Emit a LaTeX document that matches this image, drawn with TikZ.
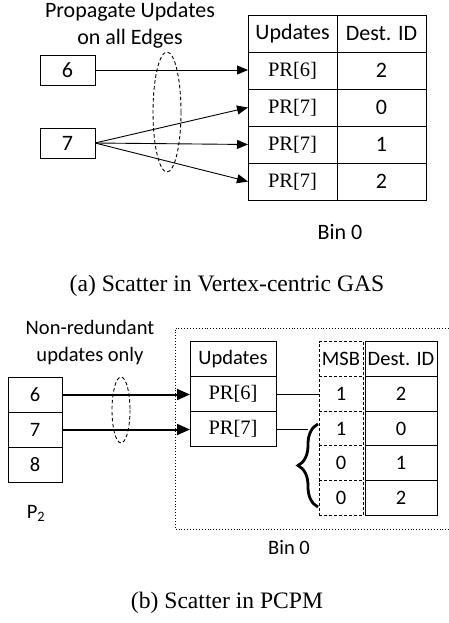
\documentclass[tikz,border=0pt]{standalone}
\usepackage{fontspec}
\setmainfont{Carlito}
\newfontfamily\serifface{Liberation Serif}
\usetikzlibrary{arrows.meta,decorations.pathreplacing}

\begin{document}
\begin{tikzpicture}[x=1pt,y=-1pt,
  cellA/.style={draw,line width=0.9pt,rectangle,inner sep=0pt,outer sep=0pt,
    minimum width=89pt,minimum height=37pt,font=\fontsize{22}{26}\selectfont},
  cellB/.style={draw,line width=0.9pt,rectangle,inner sep=0pt,outer sep=0pt,
    minimum height=35pt,font=\fontsize{20.5}{24}\selectfont},
  msbcell/.style={cellB,dashed,dash pattern=on 3pt off 2pt,minimum width=44pt,minimum height=34.8pt},
  destcell/.style={cellB,minimum width=72pt,minimum height=34.8pt},
  vbox/.style={draw,line width=0.9pt,rectangle,inner sep=0pt,outer sep=0pt,
    minimum width=55pt,minimum height=30pt,font=\fontsize{22}{26}\selectfont},
  pbox/.style={cellB,minimum width=54pt},
  pr/.style={font=\serifface\fontsize{20.5}{24}\selectfont},
  thinarrow/.style={line width=0.9pt,-{Triangle[length=11pt,width=9pt]}},
  thickarrow/.style={line width=2pt,-{Triangle[length=13pt,width=11pt]}},
  ring/.style={draw,dashed,dash pattern=on 3.5pt off 2.5pt,line width=0.9pt},
  lbl/.style={align=center,inner sep=0pt},
  caption/.style={inner sep=0pt,font=\serifface\fontsize{23.6}{28}\selectfont}
]
\useasboundingbox (0,0) rectangle (449,623);

% ---------- (a) vertex-centric scatter ----------
\node[lbl,font=\fontsize{22}{27}\selectfont] (titleA) at (130,25) {Propagate Updates\\on all Edges};

\node[vbox] (v6) at (67.5,70) {6};
\node[vbox] (v7) at (67.5,143) {7};

\node[cellA] (hU) at (292.5,33.5) {Updates};
\node[cellA] (hD) at (381.5,33.5) {Dest. ID};
\node[cellA,pr] (u1) at (292.5,70.5) {PR[6]};
\node[cellA] (d1) at (381.5,70.5) {2};
\node[cellA,pr] (u2) at (292.5,107.5) {PR[7]};
\node[cellA] (d2) at (381.5,107.5) {0};
\node[cellA,pr] (u3) at (292.5,144.5) {PR[7]};
\node[cellA] (d3) at (381.5,144.5) {1};
\node[cellA,pr] (u4) at (292.5,181.5) {PR[7]};
\node[cellA] (d4) at (381.5,181.5) {2};

\draw[thinarrow] (v6.east) -- (v6.east -| u1.west);
\draw[thinarrow] (v7.east) -- (u2.west);
\draw[thinarrow] (v7.east) -- (u3.west);
\draw[thinarrow] (v7.east) -- (u4.west);

\draw[ring] (167,112) ellipse [x radius=14, y radius=60];

\node[inner sep=0pt,font=\fontsize{22}{26}\selectfont] (binA) at (340,232) {Bin 0};
\node[caption] (capA) at (227,286) {(a) Scatter in Vertex-centric GAS};

% ---------- (b) PCPM scatter ----------
\node[lbl,font=\fontsize{20.5}{27}\selectfont] (titleB) at (90,343) {Non-redundant\\updates only};

% bin outline (open on the right)
\draw[dotted,line width=0.9pt] (449,328) -- (175,328) -- (175,529) -- (449,529);

\node[pbox] (p6) at (35,394.5) {6};
\node[pbox] (p7) at (35,429.5) {7};
\node[pbox] (p8) at (35,464.5) {8};
\node[inner sep=0pt,font=\fontsize{20.5}{24}\selectfont] (pname) at (36,513) {P\textsubscript{2}};

\node[cellB,minimum width=86pt] (bU) at (233,359) {Updates};
\node[cellB,minimum width=86pt,pr] (b6) at (233,394) {PR[6]};
\node[cellB,minimum width=86pt,pr] (b7) at (233,429) {PR[7]};

\node[msbcell] (m0) at (341,358.9) {MSB};
\node[msbcell] (m1) at (341,393.7) {1};
\node[msbcell] (m2) at (341,428.5) {1};
\node[msbcell] (m3) at (341,463.3) {0};
\node[msbcell] (m4) at (341,498.1) {0};

\node[destcell] (e0) at (401,358.9) {Dest. ID};
\node[destcell] (e1) at (401,393.7) {2};
\node[destcell] (e2) at (401,428.5) {0};
\node[destcell] (e3) at (401,463.3) {1};
\node[destcell] (e4) at (401,498.1) {2};

\draw[thickarrow] (p6.east) -- (p6.east -| b6.west);
\draw[thickarrow] (p7.east) -- (p7.east -| b7.west);

\draw[ring] (121,410) ellipse [x radius=9, y radius=33];

\draw[line width=0.9pt] (b6.east) -- (b6.east -| m1.west);
\coordinate (braceTop) at (318,424);
\coordinate (braceBot) at (318,507);
\coordinate (braceJoin) at (308,429);
\draw[line width=0.9pt] (b7.east) -- (braceJoin);
\draw[line width=2.8pt,decorate,decoration={brace,amplitude=20pt}] (braceBot) -- (braceTop);

\node[inner sep=0pt,font=\fontsize{20.5}{24}\selectfont] (binB) at (289,548) {Bin 0};
\node[caption] (capB) at (227,603) {(b) Scatter in PCPM};
\end{tikzpicture}
\end{document}
